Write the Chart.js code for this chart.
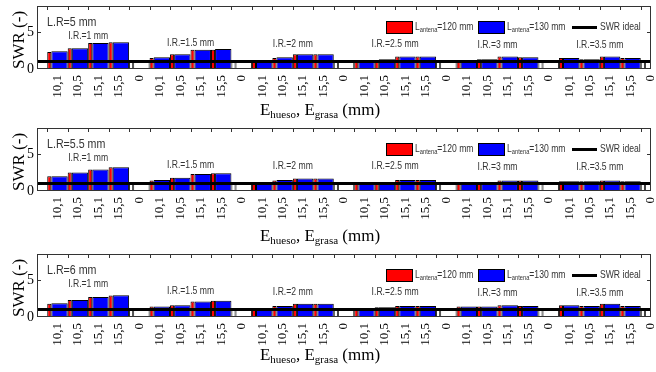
<!DOCTYPE html>
<html>
<head>
<meta charset="utf-8">
<script src="https://cdn.jsdelivr.net/npm/chart.js@4.4.0/dist/chart.umd.min.js"></script>
<style>
  body { margin: 0; background: #fff; }
  #wrap { position: relative; width: 656px; height: 372px; overflow: hidden; }
  .panel { position: absolute; left: 0; width: 656px; height: 124px; }
  .panel canvas { position: absolute; left: 0; top: 0; }
  .xt { position: absolute; left: 0; width: 640px; text-align: center; white-space: nowrap;
        font: 17px 'Liberation Serif', 'Times New Roman', serif; color: #000; }
  .xt sub { font-size: 11px; vertical-align: -3px; line-height: 0; }
</style>
</head>
<body>
<div id="wrap"></div>
<script>
// eje x: 6 grupos de I.R., cada uno con E_hueso,E_grasa + separador "0"
const groupTicks = ['10,1', '10,5', '15,1', '15,5', '0'];
const xLabels = [''];
for (let g = 0; g < 6; g++) xLabels.push(...groupTicks);

const irLabels = ['I.R.=1 mm', 'I.R.=1.5 mm', 'I.R.=2 mm', 'I.R.=2.5 mm', 'I.R.=3 mm', 'I.R.=3.5 mm'];
const lrLabels = ['L.R=5 mm', 'L.R=5.5 mm', 'L.R=6 mm'];

// SWR, L_antena = 120 mm (rojo) y 130 mm (azul)
const red5  = [null, 2.3, 2.8, 3.5, 3.6, 1, 1.5, 2.0, 2.6, 2.6, 1, 1.2, 1.5, 2.0, 2.0, 1, 1.0, 1.2, 1.7, 1.7, 1, 1.0, 1.3, 1.7, 1.6, 1, 1.5, 1.3, 1.7, 1.5, 1];
const blue5 = [null, 2.4, 2.8, 3.5, 3.6, 1, 1.6, 2.0, 2.6, 2.7, 1, 1.2, 1.6, 2.0, 2.0, 1, 1.0, 1.3, 1.7, 1.7, 1, 1.1, 1.3, 1.7, 1.6, 1, 1.5, 1.3, 1.7, 1.5, 1];
const red55  = [null, 2.0, 2.5, 2.9, 3.2, 1, 1.4, 1.8, 2.3, 2.4, 1, 1.0, 1.4, 1.7, 1.7, 1, 1.0, 1.2, 1.5, 1.5, 1, 1.2, 1.2, 1.4, 1.4, 1, 1.3, 1.3, 1.4, 1.3, 1];
const blue55 = [null, 2.0, 2.5, 2.9, 3.2, 1, 1.5, 1.8, 2.3, 2.4, 1, 1.0, 1.5, 1.7, 1.7, 1, 1.0, 1.2, 1.5, 1.5, 1, 1.2, 1.2, 1.4, 1.4, 1, 1.3, 1.3, 1.4, 1.3, 1];
const red6  = [null, 1.8, 2.3, 2.7, 2.9, 1, 1.4, 1.6, 2.1, 2.2, 1, 1.0, 1.5, 1.8, 1.8, 1, 1.0, 1.3, 1.5, 1.5, 1, 1.4, 1.4, 1.6, 1.5, 1, 1.6, 1.5, 1.8, 1.5, 1];
const blue6 = [null, 1.85, 2.3, 2.7, 2.95, 1, 1.4, 1.6, 2.1, 2.2, 1, 1.0, 1.5, 1.8, 1.8, 1, 1.0, 1.3, 1.5, 1.5, 1, 1.4, 1.4, 1.6, 1.5, 1, 1.6, 1.5, 1.8, 1.5, 1];
const idealSWR = [1, 1, 1, 1, 1, 1, 1, 1, 1, 1, 1, 1, 1, 1, 1, 1, 1, 1, 1, 1, 1, 1, 1, 1, 1, 1, 1, 1, 1, 1, 1];

const panels = [
  { top: 0,   lr: lrLabels[0], red: red5,  blue: blue5,  titleTop: 100 },
  { top: 122, lr: lrLabels[1], red: red55, blue: blue55, titleTop: 104 },
  { top: 248, lr: lrLabels[2], red: red6,  blue: blue6,  titleTop: 97 }
];

const irY = [36, 43, 44, 44, 45, 45];
const SANS = "'Liberation Sans', Arial, sans-serif";
const SERIF = "'Liberation Serif', 'Times New Roman', serif";
const NARROW = 0.82;

// texto estrecho (tipo Arial Narrow) escalando en x
function narrowText(ctx, text, x, y, size, align) {
  ctx.font = size + 'px ' + SANS;
  const w = ctx.measureText(text).width * NARROW;
  let x0 = x;
  if (align === 'center') x0 = x - w / 2;
  ctx.save();
  ctx.textAlign = 'left';
  ctx.translate(x0, y);
  ctx.scale(NARROW, 1);
  ctx.fillText(text, 0, 0);
  ctx.restore();
  return w;
}

function subText(ctx, x, y, pre, sub, post) {
  x += narrowText(ctx, pre, x, y, 10.5);
  x += narrowText(ctx, sub, x, y + 3, 7);
  narrowText(ctx, post, x, y, 10.5);
}

const decor = {
  id: 'decor',
  afterDraw(chart, args, opts) {
    const { ctx, chartArea: a, scales: { x, y } } = chart;
    ctx.save();
    // marco
    ctx.strokeStyle = '#333';
    ctx.lineWidth = 1;
    ctx.strokeRect(a.left + 0.5, a.top + 0.5, a.right - a.left - 1, a.bottom - a.top - 1);
    // marcas hacia dentro
    const half = (x.getPixelForValue(1) - x.getPixelForValue(0)) / 2;
    ctx.beginPath();
    for (let i = 1; i < xLabels.length; i++) {
      const px = Math.round(x.getPixelForValue(i) - half) + 0.5;
      ctx.moveTo(px, a.top);
      ctx.lineTo(px, a.top + 4);
    }
    const py = Math.round(y.getPixelForValue(5)) + 0.5;
    ctx.moveTo(a.left, py); ctx.lineTo(a.left + 4, py);
    ctx.moveTo(a.right, py); ctx.lineTo(a.right - 4, py);
    ctx.stroke();

    // textos
    ctx.fillStyle = '#333';
    ctx.textBaseline = 'middle';
    narrowText(ctx, opts.lr, 47, 22, 13);
    irLabels.forEach((t, g) => {
      const cx = (x.getPixelForValue(1 + 5 * g) + x.getPixelForValue(4 + 5 * g)) / 2;
      narrowText(ctx, t, cx, irY[g], 10.5, 'center');
    });

    // leyenda
    ctx.strokeStyle = '#000';
    ctx.fillStyle = '#ff0000';
    ctx.fillRect(386, 21, 26, 12);
    ctx.strokeRect(386.5, 21.5, 26, 12);
    ctx.fillStyle = '#0000ff';
    ctx.fillRect(478, 21, 26, 12);
    ctx.strokeRect(478.5, 21.5, 26, 12);
    ctx.fillStyle = '#333';
    subText(ctx, 415, 27.5, 'L', 'antena', '=120 mm');
    subText(ctx, 507, 27.5, 'L', 'antena', '=130 mm');
    ctx.beginPath();
    ctx.lineWidth = 3;
    ctx.moveTo(572, 27.5); ctx.lineTo(597, 27.5);
    ctx.stroke();
    narrowText(ctx, 'SWR ideal', 600, 27.5, 10.5);
    ctx.restore();
  }
};

const wrap = document.getElementById('wrap');
const fillFor = col => c => xLabels[c.dataIndex] === '0' ? '#ffffff' : col;

panels.forEach(p => {
  const div = document.createElement('div');
  div.className = 'panel';
  div.style.top = p.top + 'px';
  const cv = document.createElement('canvas');
  cv.width = 656; cv.height = 124;
  div.appendChild(cv);
  const t = document.createElement('div');
  t.className = 'xt';
  t.style.top = p.titleTop + 'px';
  t.innerHTML = 'E<sub>hueso</sub>, E<sub>grasa</sub> (mm)';
  div.appendChild(t);
  wrap.appendChild(div);

  new Chart(cv.getContext('2d'), {
    type: 'bar',
    data: {
      labels: xLabels,
      datasets: [
        { type: 'line', label: 'SWR ideal', data: idealSWR, borderColor: '#000', borderWidth: 3,
          pointRadius: 0, order: 0 },
        { label: 'L antena=120 mm', data: p.red, backgroundColor: fillFor('#ff0000'),
          borderColor: '#000', borderWidth: 1, borderSkipped: false, order: 1, clip: 0,
          categoryPercentage: 1.6, barPercentage: 0.25 },
        { label: 'L antena=130 mm', data: p.blue, backgroundColor: fillFor('#0000ff'),
          borderColor: '#000', borderWidth: 1, borderSkipped: false, order: 1, clip: 0,
          categoryPercentage: 0.4, barPercentage: 4 }
      ]
    },
    options: {
      responsive: false,
      animation: false,
      layout: { padding: { top: 6, right: 5, left: 0, bottom: 0 } },
      plugins: { legend: { display: false }, tooltip: { enabled: false }, decor: { lr: p.lr } },
      scales: {
        x: {
          offset: false,
          grid: { display: false, offset: true, drawTicks: false },
          border: { display: false },
          ticks: { autoSkip: false, maxRotation: 90, minRotation: 90, padding: 6,
                   color: '#000', font: { family: SERIF, size: 13 } },
          afterFit: s => { s.height = 55; s.paddingLeft = 0; s.paddingRight = 0; }
        },
        y: {
          min: 0, max: 8.5,
          grid: { display: false, drawTicks: false },
          border: { display: false },
          ticks: { stepSize: 5, includeBounds: false, padding: 3, color: '#000',
                   font: { family: SERIF, size: 14 } },
          title: { display: true, text: 'SWR (-)', color: '#000', align: 'start',
                   padding: { top: 9, bottom: 0 }, font: { family: SERIF, size: 17 } },
          afterFit: s => { s.width = 37; s.paddingTop = 0; s.paddingBottom = 0; }
        }
      }
    },
    plugins: [decor]
  });
});
</script>
</body>
</html>
